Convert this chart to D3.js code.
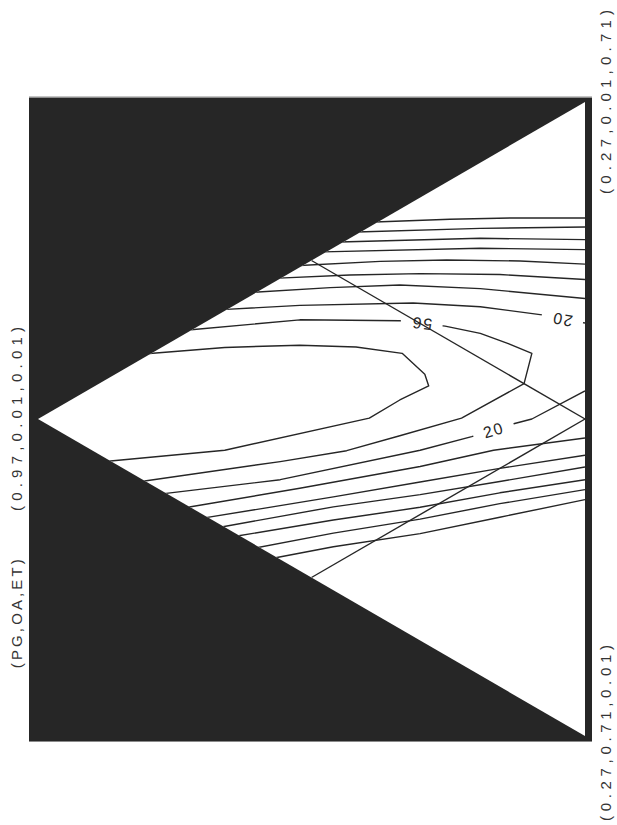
<!DOCTYPE html>
<meta charset="utf-8">
<style>

	body { margin: 0; background: #fff; }
	svg { display: block; }

	.frame { fill: #262626; }
	.edge { stroke: #8a8a8a; stroke-width: 1; }

	.contour,
	.guide {
	  fill: none;
	  stroke: #262626;
	  stroke-width: 1.4;
	  stroke-linejoin: round;
	}

	.corner-label {
	  font: 15px "Liberation Sans", Arial, sans-serif;
	  fill: #333;
	}

	.contour-label {
	  font: 16px "Liberation Sans", Arial, sans-serif;
	  fill: #262626;
	}

</style>

<body>
	<script src="https://d3js.org/d3.v7.min.js"></script>

	<script>

		// compositions are [PG, OA, ET]
		var vertices = [[0.97, 0.01, 0.01], [0.27, 0.71, 0.01], [0.27, 0.01, 0.71]];
		var axisTitle = "(PG,OA,ET)";

		// the two straight lines: ET = 0.36 and OA = 0.36
		var guideLines = [
			[[0.27, 0.36, 0.36], [0.62, 0.01, 0.36]],
			[[0.27, 0.36, 0.36], [0.62, 0.36, 0.01]]
		];

		// contour lines
		var c1 = [[0.539,0.008,0.443],[0.443,0.053,0.494],[0.362,0.092,0.536],[0.27,0.138,0.582]];
		var c2 = [[0.562,0.008,0.421],[0.404,0.082,0.503],[0.27,0.148,0.572]];
		var c3 = [[0.584,0.008,0.399],[0.404,0.093,0.492],[0.27,0.162,0.558]];
		var c4 = [[0.605,0.008,0.377],[0.404,0.104,0.481],[0.27,0.173,0.547]];
		var c5 = [[0.635,0.008,0.347],[0.532,0.055,0.403],[0.447,0.096,0.447],[0.353,0.144,0.493],[0.27,0.189,0.531]];
		var c6 = [[0.662,0.009,0.320],[0.571,0.051,0.369],[0.481,0.094,0.415],[0.379,0.146,0.465],[0.27,0.206,0.514]];
		var c7 = [[0.694,0.008,0.288],[0.596,0.052,0.342],[0.507,0.094,0.390],[0.404,0.149,0.437],[0.27,0.227,0.493]];
		var c8 = [[0.729,0.009,0.251],[0.635,0.052,0.303],[0.490,0.122,0.378],[0.404,0.169,0.417],[0.325,0.217,0.447],[0.27,0.254,0.466]];
		var c9 = [[0.774,0.009,0.206],[0.635,0.068,0.287],[0.507,0.133,0.350],[0.449,0.168,0.373],[0.404,0.198,0.387],
			[0.369,0.227,0.394],[0.338,0.253,0.398],[0.348,0.282,0.360],[0.428,0.280,0.282],[0.507,0.260,0.223],
			[0.575,0.243,0.173],[0.660,0.212,0.118],[0.838,0.145,0.007]];
		var c10 = [[0.831,0.008,0.152],[0.731,0.051,0.209],[0.635,0.096,0.259],[0.563,0.134,0.293],[0.504,0.170,0.315],
			[0.475,0.208,0.307],[0.470,0.223,0.296],[0.507,0.221,0.263],[0.546,0.221,0.223],[0.731,0.164,0.095],[0.884,0.100,0.006]];
		var c11 = [[0.814,0.171,0.005],[0.660,0.232,0.098],[0.481,0.289,0.220],[0.415,0.307,0.268],[0.360,0.320,0.310],[0.338,0.326,0.326],[0.27,0.329,0.391]];
		var c12 = [[0.782,0.202,0.006],[0.635,0.254,0.101],[0.481,0.307,0.202],[0.387,0.336,0.267],[0.27,0.381,0.339]];
		var c13 = [[0.759,0.225,0.006],[0.592,0.285,0.113],[0.481,0.324,0.185],[0.379,0.360,0.251],[0.27,0.400,0.320]];
		var c14 = [[0.737,0.246,0.007],[0.592,0.296,0.102],[0.481,0.338,0.171],[0.379,0.375,0.237],[0.27,0.413,0.307]];
		var c15 = [[0.717,0.266,0.007],[0.592,0.310,0.087],[0.481,0.352,0.157],[0.379,0.387,0.224],[0.27,0.427,0.293]];
		var c16 = [[0.695,0.291,0.005],[0.592,0.325,0.073],[0.481,0.365,0.144],[0.379,0.399,0.212],[0.27,0.438,0.282]];
		var c17 = [[0.671,0.314,0.006],[0.592,0.340,0.058],[0.481,0.381,0.128],[0.379,0.414,0.197],[0.27,0.449,0.271]];

		var contours = [c1, c2, c3, c4, c5, c6, c7, c8, c9, c10, c11, c12, c13, c14, c15, c16, c17];

		// label sits between points seg and seg+1 of its line
		var contourLabels = [
			{text: "20", line: c8, seg: 4, at: [0.299, 0.235, 0.455], flip: true},
			{text: "56", line: c9, seg: 2, at: [0.479, 0.150, 0.361], flip: true},
			{text: "20", line: c11, seg: 3, at: [0.387, 0.314, 0.289], flip: false}
		];

		var width = 617, height = 825;

		// PG runs left to right, ET - OA runs bottom to top (page is turned)
		var x = d3.scaleLinear().domain([0.97, 0.27]).range([38, 585]);
		var y = d3.scaleLinear().domain([-0.70, 0.70]).range([736, 102]);

		function px(c) { return [x(c[0]), y(c[2] - c[1])]; }

		var svg = d3.select("body").append("svg")
			.attr("width", width)
			.attr("height", height);

		svg.append("rect")
			.attr("width", width)
			.attr("height", height)
			.attr("fill", "#fff");

		// black frame around the triangle
		var pad = {left: 9, right: 7, top: 4.5, bottom: 5};
		var fx0 = x(0.97) - pad.left, fx1 = x(0.27) + pad.right;
		var fy0 = y(0.70) - pad.top, fy1 = y(-0.70) + pad.bottom;

		svg.append("rect")
			.attr("class", "frame")
			.attr("x", fx0)
			.attr("y", fy0)
			.attr("width", fx1 - fx0)
			.attr("height", fy1 - fy0);

		svg.append("line").attr("class", "edge")
			.attr("x1", fx0).attr("x2", fx1).attr("y1", fy0 - 0.5).attr("y2", fy0 - 0.5);
		svg.append("line").attr("class", "edge")
			.attr("x1", fx0).attr("x2", fx1).attr("y1", fy1 + 0.5).attr("y2", fy1 + 0.5);

		var triangle = vertices.map(px);

		svg.append("clipPath")
			.attr("id", "tri")
			.append("polygon")
			.attr("points", triangle.join(" "));

		svg.append("polygon")
			.attr("points", triangle.join(" "))
			.attr("fill", "#fff");

		var plot = svg.append("g").attr("clip-path", "url(#tri)");

		var line = d3.line()
			.x(function(d) { return px(d)[0]; })
			.y(function(d) { return px(d)[1]; });

		plot.selectAll(".contour")
			.data(contours)
			.enter().append("path")
			.attr("class", "contour")
			.attr("d", line);

		// labels break their line
		var labels = plot.selectAll(".clabel")
			.data(contourLabels)
			.enter().append("g")
			.attr("class", "clabel")
			.attr("transform", function(d) {
				var p = px(d.at);
				var a = px(d.line[d.seg]), b = px(d.line[d.seg + 1]);
				var ang = Math.atan2(b[1] - a[1], b[0] - a[0]) * 180 / Math.PI;
				if (d.flip) ang += 180;
				return "translate(" + p[0] + "," + p[1] + ") rotate(" + ang + ")";
			});

		labels.append("rect")
			.attr("x", -21)
			.attr("y", -4)
			.attr("width", 42)
			.attr("height", 8)
			.attr("fill", "#fff");

		labels.append("text")
			.attr("class", "contour-label")
			.attr("text-anchor", "middle")
			.attr("dominant-baseline", "central")
			.attr("letter-spacing", 1.5)
			.text(function(d) { return d.text; });

		plot.selectAll(".guide")
			.data(guideLines)
			.enter().append("path")
			.attr("class", "guide")
			.attr("d", line);

		// vertex labels, written up the page
		var fmt = d3.format(".2f");
		var cornerText = vertices.map(function(v, i) {
			var p = px(v);
			return {
				text: "(" + v.map(fmt).join(",") + ")",
				x: i === 0 ? 22 : 611,
				y: i === 1 ? p[1] - 3 : p[1],
				len: i === 1 ? 176 : 184
			};
		});
		cornerText.push({text: axisTitle, x: 22, y: y(-0.43), len: 109});

		svg.selectAll(".corner-label")
			.data(cornerText)
			.enter().append("text")
			.attr("class", "corner-label")
			.attr("text-anchor", "middle")
			.attr("textLength", function(d) { return d.len; })
			.attr("lengthAdjust", "spacing")
			.attr("transform", function(d) { return "translate(" + d.x + "," + d.y + ") rotate(-90)"; })
			.text(function(d) { return d.text; });

	</script>
</body>
